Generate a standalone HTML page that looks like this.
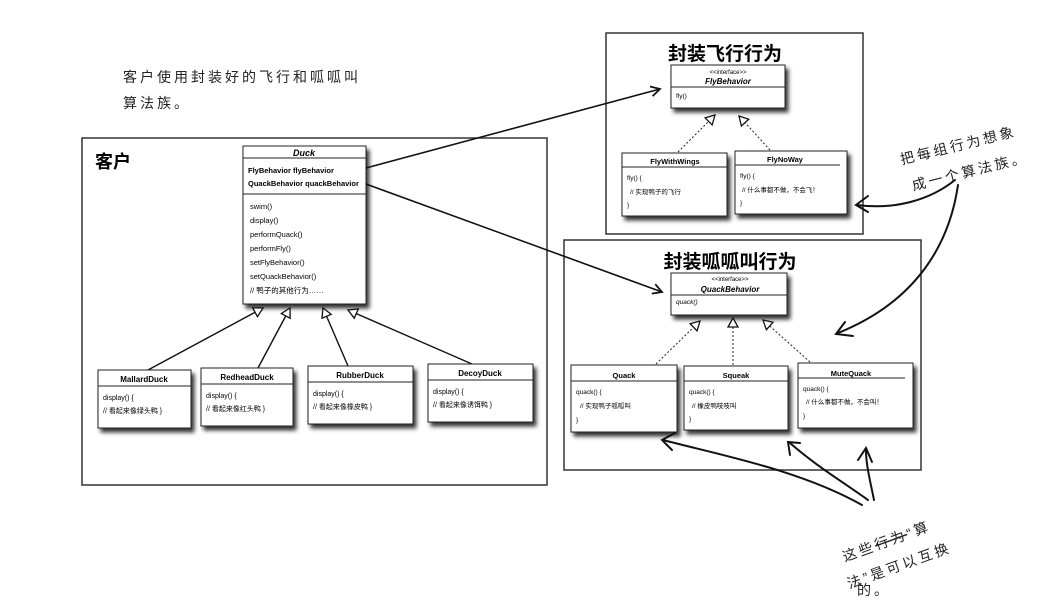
<!DOCTYPE html>
<html><head><meta charset="utf-8"><style>
html,body{margin:0;padding:0;background:#fff;}
svg{display:block;}
text{font-family:"Liberation Sans","Noto Sans CJK SC",sans-serif;}
.b{font-weight:bold;}
.hw{font-family:"Liberation Sans","Noto Sans CJK SC",sans-serif;font-size:14px;fill:#222;letter-spacing:3px;}
</style></head><body>
<svg width="1049" height="605" viewBox="0 0 1049 605" xmlns="http://www.w3.org/2000/svg">
<defs>
<filter id="sh" x="-10%" y="-10%" width="130%" height="130%">
<feGaussianBlur in="SourceAlpha" stdDeviation="2"/><feOffset dx="3" dy="4"/>
<feComponentTransfer><feFuncA type="linear" slope="0.8"/></feComponentTransfer>
<feMerge><feMergeNode/><feMergeNode in="SourceGraphic"/></feMerge></filter>
<marker id="ar" markerWidth="12" markerHeight="12" refX="10" refY="6" orient="auto" markerUnits="userSpaceOnUse">
<path d="M1,1 L10,6 L1,11" fill="none" stroke="#111" stroke-width="1.8"/></marker>
<marker id="tri" markerWidth="12" markerHeight="12" refX="10" refY="6" orient="auto" markerUnits="userSpaceOnUse">
<path d="M1,1 L10,6 L1,11 Z" fill="#fff" stroke="#111" stroke-width="1.3"/></marker>
</defs>

<text x="123" y="82" class="hw">客户使用封装好的飞行和呱呱叫</text>
<text x="123" y="108" class="hw">算法族。</text>

<rect x="82" y="138" width="465" height="347" fill="none" stroke="#333" stroke-width="1.5"/>
<text x="95" y="168" class="b" font-size="18">客户</text>

<g filter="url(#sh)">
<rect x="243" y="146" width="123" height="158" fill="#fff" stroke="#222"/>
</g>
<line x1="243" y1="158" x2="366" y2="158" stroke="#222"/>
<line x1="243" y1="194" x2="366" y2="194" stroke="#222"/>
<text x="304" y="156" font-size="9" font-style="italic" font-weight="bold" text-anchor="middle">Duck</text>
<text x="248" y="173" font-size="7.5" class="b">FlyBehavior flyBehavior</text>
<text x="248" y="186" font-size="7.5" class="b">QuackBehavior quackBehavior</text>
<g font-size="7.5">
<text x="250" y="209">swim()</text>
<text x="250" y="223">display()</text>
<text x="250" y="237">performQuack()</text>
<text x="250" y="251">performFly()</text>
<text x="250" y="265">setFlyBehavior()</text>
<text x="250" y="279">setQuackBehavior()</text>
<text x="250" y="293">// 鸭子的其他行为……</text>
</g>

<g stroke="#111" stroke-width="1.4" fill="none">
<line x1="148" y1="370" x2="263" y2="308" marker-end="url(#tri)"/>
<line x1="258" y1="368" x2="290" y2="308" marker-end="url(#tri)"/>
<line x1="348" y1="366" x2="323" y2="308" marker-end="url(#tri)"/>
<line x1="472" y1="364" x2="348" y2="310" marker-end="url(#tri)"/>
</g>

<g filter="url(#sh)" fill="#fff" stroke="#222">
<rect x="98" y="370" width="93" height="58"/>
<rect x="201" y="368" width="92" height="58"/>
<rect x="308" y="366" width="105" height="58"/>
<rect x="428" y="364" width="105" height="58"/>
</g>
<g stroke="#222">
<line x1="98" y1="386" x2="191" y2="386"/>
<line x1="201" y1="384" x2="293" y2="384"/>
<line x1="308" y1="382" x2="413" y2="382"/>
<line x1="428" y1="380" x2="533" y2="380"/>
</g>
<g font-size="8" class="b" text-anchor="middle">
<text x="144" y="382">MallardDuck</text>
<text x="247" y="380">RedheadDuck</text>
<text x="360" y="378">RubberDuck</text>
<text x="480" y="376">DecoyDuck</text>
</g>
<g font-size="7">
<text x="103" y="400">display() {</text>
<text x="103" y="413">// 看起来像绿头鸭 }</text>
<text x="206" y="398">display() {</text>
<text x="206" y="411">// 看起来像红头鸭 }</text>
<text x="313" y="396">display() {</text>
<text x="313" y="409">// 看起来像橡皮鸭 }</text>
<text x="433" y="394">display() {</text>
<text x="433" y="407">// 看起来像诱饵鸭 }</text>
</g>

<rect x="606" y="33" width="257" height="201" fill="none" stroke="#333" stroke-width="1.5"/>
<text x="725" y="60" class="b" font-size="19" text-anchor="middle">封装飞行行为</text>
<g filter="url(#sh)" fill="#fff" stroke="#222">
<rect x="671" y="65" width="114" height="43"/>
<rect x="622" y="153" width="105" height="63"/>
<rect x="735" y="151" width="112" height="63"/>
</g>
<line x1="671" y1="87" x2="785" y2="87" stroke="#222"/>
<line x1="622" y1="167" x2="727" y2="167" stroke="#222"/>
<line x1="735" y1="165" x2="840" y2="165" stroke="#222"/>
<text x="728" y="74" font-size="6" text-anchor="middle">&lt;&lt;interface&gt;&gt;</text>
<text x="728" y="84" font-size="8" font-style="italic" font-weight="bold" text-anchor="middle">FlyBehavior</text>
<text x="676" y="98" font-size="6.5">fly()</text>
<text x="675" y="164" font-size="7.5" class="b" text-anchor="middle">FlyWithWings</text>
<text x="785" y="162" font-size="7.5" class="b" text-anchor="middle">FlyNoWay</text>
<g font-size="6.5">
<text x="627" y="180">fly() {</text>
<text x="630" y="194">// 实现鸭子的飞行</text>
<text x="627" y="207">}</text>
<text x="740" y="178">fly() {</text>
<text x="742" y="192">// 什么事都不做，不会飞！</text>
<text x="740" y="205">}</text>
</g>
<g stroke="#222" stroke-width="1" stroke-dasharray="2,2" fill="none">
<line x1="678" y1="152" x2="715" y2="115" marker-end="url(#tri)"/>
<line x1="770" y1="150" x2="739" y2="116" marker-end="url(#tri)"/>
</g>

<rect x="564" y="240" width="357" height="230" fill="none" stroke="#333" stroke-width="1.5"/>
<text x="730" y="268" class="b" font-size="19" text-anchor="middle">封装呱呱叫行为</text>
<g filter="url(#sh)" fill="#fff" stroke="#222">
<rect x="671" y="273" width="116" height="42"/>
<rect x="571" y="365" width="106" height="67"/>
<rect x="684" y="366" width="104" height="64"/>
<rect x="798" y="363" width="115" height="65"/>
</g>
<line x1="671" y1="295" x2="787" y2="295" stroke="#222"/>
<line x1="571" y1="381" x2="677" y2="381" stroke="#222"/>
<line x1="684" y1="381" x2="788" y2="381" stroke="#222"/>
<line x1="798" y1="378" x2="905" y2="378" stroke="#222"/>
<text x="730" y="281" font-size="6" text-anchor="middle">&lt;&lt;interface&gt;&gt;</text>
<text x="730" y="292" font-size="8" font-style="italic" font-weight="bold" text-anchor="middle">QuackBehavior</text>
<text x="676" y="304" font-size="6.5" font-style="italic">quack()</text>
<text x="624" y="378" font-size="7.5" class="b" text-anchor="middle">Quack</text>
<text x="736" y="378" font-size="7.5" class="b" text-anchor="middle">Squeak</text>
<text x="851" y="376" font-size="7.5" class="b" text-anchor="middle">MuteQuack</text>
<g font-size="6.5">
<text x="576" y="394">quack() {</text>
<text x="580" y="408">// 实现鸭子呱呱叫</text>
<text x="576" y="422">}</text>
<text x="689" y="394">quack() {</text>
<text x="692" y="408">// 橡皮鸭吱吱叫</text>
<text x="689" y="421">}</text>
<text x="803" y="391">quack() {</text>
<text x="806" y="404">// 什么事都不做，不会叫！</text>
<text x="803" y="418">}</text>
</g>
<g stroke="#222" stroke-width="1" stroke-dasharray="2,2" fill="none">
<line x1="656" y1="364" x2="700" y2="321" marker-end="url(#tri)"/>
<line x1="733" y1="365" x2="733" y2="318" marker-end="url(#tri)"/>
<line x1="810" y1="362" x2="763" y2="320" marker-end="url(#tri)"/>
</g>

<g stroke="#111" stroke-width="1.6" fill="none">
<line x1="366" y1="168" x2="660" y2="89" marker-end="url(#ar)"/>
<line x1="366" y1="184" x2="662" y2="292" marker-end="url(#ar)"/>
</g>

<g transform="rotate(-14 960 150)">
<text x="900" y="150" class="hw">把每组行为想象</text>
<text x="905" y="178" class="hw">成一个算法族。</text>
</g>
<g stroke="#111" stroke-width="2" fill="none" stroke-linecap="round">
<path d="M955,180 C930,200 895,210 857,205"/>
<path d="M868,196 L856,205 L868,212"/>
<path d="M958,185 C950,240 920,300 838,333"/>
<path d="M845,322 L836,334 L853,336"/>
<path d="M862,505 C800,470 720,455 663,440"/>
<path d="M675,433 L662,440 L672,450"/>
<path d="M868,500 C840,480 815,465 790,443"/>
<path d="M790,455 L788,442 L800,443"/>
<path d="M874,500 C870,480 866,465 866,450"/>
<path d="M858,460 L866,448 L872,462"/>
</g>
<g transform="rotate(-20 890 540)">
<text x="840" y="545" class="hw">这些<tspan text-decoration="line-through">行为</tspan>“算</text>
<text x="835" y="572" class="hw">法”是可以互换</text>
</g>
<text x="857" y="595" class="hw">的。</text>
</svg>
</body></html>
